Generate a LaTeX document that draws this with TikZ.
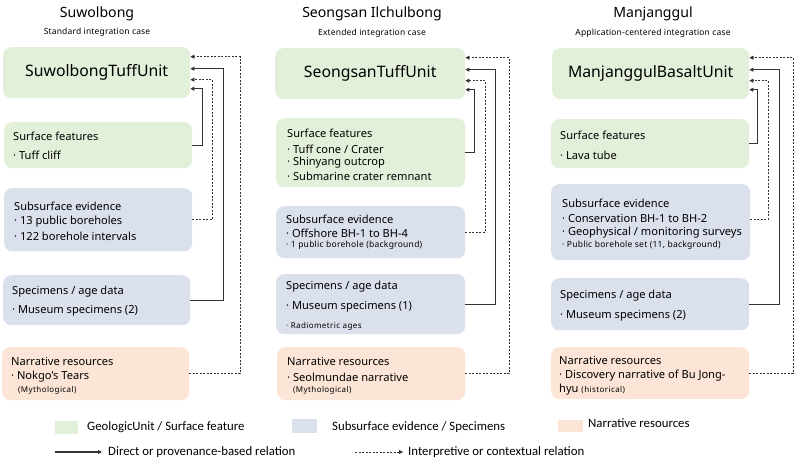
\documentclass[tikz,border=0pt]{standalone}
\usepackage{fontspec}
\setmainfont{Noto Sans}
\newfontfamily\legfont{Carlito}
\usetikzlibrary{arrows.meta}
\definecolor{gfill}{HTML}{E2F0D9}
\definecolor{bfill}{HTML}{DAE0EC}
\definecolor{ofill}{HTML}{FCE4D6}
\definecolor{lncol}{HTML}{333333}
\begin{document}
\begin{tikzpicture}[x=1pt,y=-1pt,
  box/.style={rounded corners=8pt, inner sep=0pt, anchor=north west, draw=none},
  gbox/.style={box, fill=gfill},
  bbox/.style={box, fill=bfill},
  obox/.style={box, fill=ofill},
  unitlbl/.style={font=\fontsize{15.8}{19}\selectfont},
  ttl/.style={inner sep=0pt, font=\fontsize{14.1}{17}\selectfont},
  subttl/.style={inner sep=0pt, font=\fontsize{8.5}{10}\selectfont\addfontfeatures{LetterSpace=2}},
  txt/.style={anchor=west, inner sep=0pt, font=\fontsize{11.1}{13}\selectfont},
  smtxt/.style={anchor=west, inner sep=0pt, font=\fontsize{8.5}{10}\selectfont\addfontfeatures{LetterSpace=3}},
  tinytxt/.style={anchor=west, inner sep=0pt, font=\fontsize{8}{10}\selectfont\addfontfeatures{LetterSpace=5}},
  legtxt/.style={anchor=west, inner sep=0pt, font=\legfont\fontsize{12.8}{15}\selectfont},
  swatch/.style={inner sep=0pt, anchor=north west},
  solidrel/.style={draw=lncol, line width=1.1pt, -{Triangle[length=4pt,width=4pt]}},
  dashrel/.style={draw=lncol, line width=0.8pt, dash pattern=on 2pt off 1.5pt, -{Triangle[length=4pt,width=4pt]}}
]
\useasboundingbox (0,0) rectangle (800,466);

% ---------- Left column ----------
\node[ttl] (title1) at (97,14) {Suwolbong};
\node[subttl] (sub1) at (97,32) {Standard integration case};
\node[gbox, minimum width=187pt, minimum height=51pt, unitlbl] (u1) at (3,47) {SuwolbongTuffUnit};
\node[gbox, minimum width=188pt, minimum height=46pt] (s1) at (4,122) {};
\node[bbox, minimum width=188pt, minimum height=63pt] (b1) at (4,188) {};
\node[bbox, minimum width=187pt, minimum height=50pt] (p1) at (3,275) {};
\node[obox, minimum width=187pt, minimum height=53pt] (n1) at (2,347) {};

\node[txt] (s1a) at (13,136) {Surface features};
\node[txt] (s1b) at (13,155) {· Tuff cliff};
\node[txt] (b1a) at (14,206) {Subsurface evidence};
\node[txt] (b1b) at (14,222) {· 13 public boreholes};
\node[txt] (b1c) at (14,236) {· 122 borehole intervals};
\node[txt] (p1a) at (12,292) {Specimens / age data};
\node[txt] (p1b) at (12,311) {· Museum specimens (2)};
\node[txt] (n1a) at (11,361) {Narrative resources};
\node[txt] (n1b) at (11,377) {· Nokgo’s Tears};
\node[tinytxt] (n1c) at (18,390) {(Mythological)};

\draw[solidrel] (s1.east) -- ++(10,0) |- ([yshift=-16pt]u1.east);
\draw[dashrel] (b1.east) -- ++(20,0) |- ([yshift=-7pt]u1.east);
\draw[solidrel] (p1.east) -- ++(33,0) |- ([yshift=4pt]u1.east);
\draw[dashrel] (n1.east) -- ++(51,0) |- ([yshift=16pt]u1.east);

% ---------- Middle column ----------
\node[ttl] (title2) at (372,14) {Seongsan Ilchulbong};
\node[subttl] (sub2) at (372,33) {Extended integration case};
\node[gbox, minimum width=190pt, minimum height=51pt, unitlbl] (u2) at (275,48) {SeongsanTuffUnit};
\node[gbox, minimum width=189pt, minimum height=69pt] (s2) at (276,118) {};
\node[bbox, minimum width=189pt, minimum height=52pt] (b2) at (276,206) {};
\node[bbox, minimum width=189pt, minimum height=60pt] (p2) at (276,274) {};
\node[obox, minimum width=188pt, minimum height=53pt] (n2) at (277,347) {};

\node[txt] (s2a) at (287,133) {Surface features};
\node[txt] (s2b) at (287,149) {· Tuff cone / Crater};
\node[txt] (s2c) at (287,163) {· Shinyang outcrop};
\node[txt] (s2d) at (287,176) {· Submarine crater remnant};
\node[txt] (b2a) at (286,219) {Subsurface evidence};
\node[txt] (b2b) at (286,233) {· Offshore BH-1 to BH-4};
\node[smtxt] (b2c) at (286,245) {· 1 public borehole (background)};
\node[txt] (p2a) at (286,287) {Specimens / age data};
\node[txt] (p2b) at (286,307) {· Museum specimens (1)};
\node[tinytxt] (p2c) at (286,326) {· Radiometric ages};
\node[txt] (n2a) at (287,361) {Narrative resources};
\node[txt] (n2b) at (287,377) {· Seolmundae narrative};
\node[tinytxt] (n2c) at (293,390) {(Mythological)};

\draw[solidrel] (s2.east) -- ++(9,0) |- ([yshift=-16pt]u2.east);
\draw[dashrel] (b2.east) -- ++(20,0) |- ([yshift=-7pt]u2.east);
\draw[solidrel] (p2.east) -- ++(30,0) |- ([yshift=4pt]u2.east);
\draw[dashrel] (n2.east) -- ++(44,0) |- ([yshift=16pt]u2.east);

% ---------- Right column ----------
\node[ttl] (title3) at (653,14) {Manjanggul};
\node[subttl] (sub3) at (653,33) {Application-centered integration case};
\node[gbox, minimum width=197pt, minimum height=51pt, unitlbl] (u3) at (552,48) {ManjanggulBasaltUnit};
\node[gbox, minimum width=198pt, minimum height=49pt] (s3) at (551,119) {};
\node[bbox, minimum width=199pt, minimum height=76pt] (b3) at (551,184) {};
\node[bbox, minimum width=198pt, minimum height=52pt] (p3) at (551,278) {};
\node[obox, minimum width=198pt, minimum height=52pt] (n3) at (551,347) {};

\node[txt] (s3a) at (560,135) {Surface features};
\node[txt] (s3b) at (560,155) {· Lava tube};
\node[txt] (b3a) at (562,203) {Subsurface evidence};
\node[txt] (b3b) at (562,218) {· Conservation BH-1 to BH-2};
\node[txt] (b3c) at (562,233) {· Geophysical / monitoring surveys};
\node[smtxt] (b3d) at (562,245) {· Public borehole set (11, background)};
\node[txt] (p3a) at (560,296) {Specimens / age data};
\node[txt] (p3b) at (560,316) {· Museum specimens (2)};
\node[txt] (n3a) at (559,360) {Narrative resources};
\node[txt] (n3b) at (559,376) {· Discovery narrative of Bu Jong-};
\node[txt] (n3c) at (559,390) {hyu {\fontsize{8}{10}\selectfont\addfontfeatures{LetterSpace=5}(historical)}};

\draw[solidrel] (s3.east) -- ++(8,0) |- ([yshift=-16pt]u3.east);
\draw[dashrel] ([yshift=3pt]b3.east) -- ++(18,0) |- ([yshift=-7pt]u3.east);
\draw[solidrel] (p3.east) -- ++(30,0) |- ([yshift=4pt]u3.east);
\draw[dashrel] (n3.east) -- ++(44,0) |- ([yshift=16pt]u3.east);

% ---------- Legend ----------
\node[swatch, fill=gfill, minimum width=23pt, minimum height=13pt] (lg1) at (55,421) {};
\node[legtxt] (lt1) at (87,427) {GeologicUnit / Surface feature};
\node[swatch, fill=bfill, minimum width=25pt, minimum height=14pt] (lg2) at (292,419) {};
\node[legtxt] (lt2) at (332,427) {Subsurface evidence / Specimens};
\node[swatch, fill=ofill, minimum width=25pt, minimum height=12pt] (lg3) at (558,420) {};
\node[legtxt] (lt3) at (588,423) {Narrative resources};

\coordinate (la1) at (55,452);
\coordinate (la2) at (102,452);
\draw[solidrel] (la1) -- (la2);
\node[legtxt] (lt4) at (108,452) {Direct or provenance-based relation};
\coordinate (la3) at (355,452);
\coordinate (la4) at (403,452);
\draw[dashrel] (la3) -- (la4);
\node[legtxt] (lt5) at (408,452) {Interpretive or contextual relation};
\end{tikzpicture}
\end{document}
